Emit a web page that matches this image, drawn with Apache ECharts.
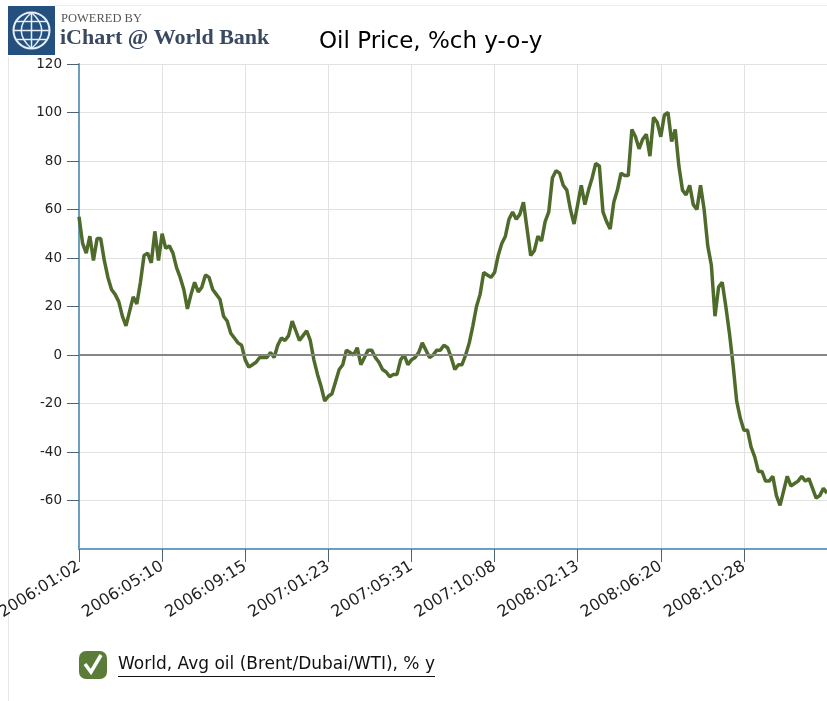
<!DOCTYPE html>
<html>
<head>
<meta charset="utf-8">
<script src="https://cdn.jsdelivr.net/npm/echarts@6/dist/echarts.min.js"></script>
<style>
  html, body { margin: 0; padding: 0; background: #ffffff; }
  #chart { width: 827px; height: 701px; }
</style>
</head>
<body>
<div id="chart"></div>
<script>
// ---- data ----
const chartTitle = 'Oil Price, %ch y-o-y';
const seriesName = 'World, Avg oil (Brent/Dubai/WTI), % y';
const startDate = [2006, 1, 2];      // first observation (Monday)
const stepWeekdays = 4;              // one observation every 4 business days
const labelEvery = 23;               // tick label every 23 observations (92 business days)
const yTicks = [-80, -60, -40, -20, 0, 20, 40, 60, 80, 100, 120];

const oilYoY = [
  57, 46, 42, 49, 39, 48, 48, 39, 32, 27,
  25, 22, 16, 12, 18, 24, 21, 30, 41, 42,
  38, 51, 39, 50, 44, 45, 42, 36, 32, 27,
  19, 25, 30, 26, 28, 33, 32, 27, 25, 23,
  16, 14, 9, 7, 5, 4, -2, -5, -4, -3,
  -1, -1, -1, 1, -1, 4, 7, 6, 8, 14,
  10, 6, 8, 10, 6, -2, -8, -13, -19, -17,
  -16, -11, -6, -4, 2, 1, 0, 3, -4, -1,
  2, 2, -1, -3, -6, -7, -9, -8, -8, -2,
  0, -4, -2, -1, 1, 5, 2, -1, 0, 2,
  2, 4, 3, -1, -6, -4, -4, 0, 5, 12,
  20, 25, 34, 33, 32, 34, 41, 46, 49, 56,
  59, 56, 58, 63, 52, 41, 43, 49, 47, 55,
  59, 73, 76, 75, 70, 68, 60, 54, 62, 70,
  62, 68, 73, 79, 78, 59, 55, 52, 63, 68,
  75, 74, 74, 93, 90, 85, 89, 91, 82, 98,
  96, 90, 99, 100, 88, 93, 78, 68, 66, 70,
  62, 60, 70, 60, 45, 37, 16, 28, 30, 20,
  9, -4, -19, -26, -31, -31, -38, -42, -48, -48,
  -52, -52, -50, -58, -62, -56, -50, -54, -53, -52,
  -50, -52, -51, -55, -59, -58, -55, -57
];

// categories: business-day dates, stepping stepWeekdays business days
function pad(n) { return (n < 10 ? '0' : '') + n; }
const categories = [];
(function () {
  const d = new Date(Date.UTC(startDate[0], startDate[1] - 1, startDate[2]));
  for (let i = 0; i < oilYoY.length; i++) {
    categories.push(d.getUTCFullYear() + ':' + pad(d.getUTCMonth() + 1) + ':' + pad(d.getUTCDate()));
    let k = 0;
    while (k < stepWeekdays) {
      d.setUTCDate(d.getUTCDate() + 1);
      const wd = d.getUTCDay();
      if (wd !== 0 && wd !== 6) k++;
    }
  }
})();
const lastIdx = oilYoY.length - 1;
const showTick = function (idx) { return idx % labelEvery === 0 && idx < lastIdx; };

const FONT = 'DejaVu Sans';
const axisBlue = '#6b9fc2';
const tickColor = '#4b6577';
const lineGreen = '#4f6b2c';
const legendFont = '17px "DejaVu Sans"';

// measure legend text width for the underline
const mctx = document.createElement('canvas').getContext('2d');
mctx.font = legendFont;
const legendTextW = mctx.measureText(seriesName).width;
const legendTextX = 118;

const chart = echarts.init(document.getElementById('chart'), null, { renderer: 'canvas' });
chart.setOption({
  backgroundColor: '#ffffff',
  animation: false,
  title: {
    text: chartTitle,
    left: 319, top: 31, padding: 0,
    textStyle: { fontFamily: FONT, fontSize: 23, fontWeight: 'normal', color: '#000' }
  },
  legend: {
    left: 79, top: 651, padding: 0,
    icon: 'roundRect',
    itemWidth: 28, itemHeight: 28,
    itemStyle: { color: '#5b7b39' },
    textStyle: { fontFamily: FONT, fontSize: 17, color: '#111', padding: [0, 0, 0, 6] },
    data: [seriesName],
    selectedMode: false
  },
  grid: { left: 79, top: 64, right: 0, bottom: 152, containLabel: false, outerBoundsMode: 'none' },
  xAxis: {
    type: 'category',
    data: categories,
    boundaryGap: false,
    axisLine: { onZero: false, lineStyle: { color: axisBlue, width: 2 } },
    axisTick: { interval: showTick, length: 13, lineStyle: { color: tickColor, width: 1 } },
    axisLabel: {
      interval: showTick, rotate: 32, margin: 16,
      fontFamily: FONT, fontSize: 16, color: '#222'
    },
    splitLine: { show: true, interval: showTick, lineStyle: { color: '#e2e2e2', width: 1 } }
  },
  yAxis: {
    type: 'value',
    min: yTicks[0], max: yTicks[yTicks.length - 1], interval: 20,
    axisLine: { show: true, lineStyle: { color: axisBlue, width: 2 } },
    axisTick: { show: true, length: 12, lineStyle: { color: tickColor, width: 1 } },
    axisLabel: { showMinLabel: false, margin: 17, fontFamily: FONT, fontSize: 13.5, color: '#222' },
    splitLine: { show: true, lineStyle: { color: '#e2e2e2', width: 1 } }
  },
  series: [{
    name: seriesName,
    type: 'line',
    data: oilYoY,
    showSymbol: false,
    symbol: 'none',
    lineStyle: { color: lineGreen, width: 3.5 },
    itemStyle: { color: lineGreen },
    markLine: {
      silent: true, symbol: 'none', label: { show: false },
      lineStyle: { color: '#868686', width: 1.8, type: 'solid' },
      data: [{ yAxis: 0 }]
    },
    z: 3
  }],
  graphic: [
    // panel borders
    { type: 'line', shape: { x1: 8.5, y1: 57, x2: 8.5, y2: 701 }, style: { stroke: '#e6e6e6', lineWidth: 1 }, silent: true },
    { type: 'line', shape: { x1: 55, y1: 5.5, x2: 827, y2: 5.5 }, style: { stroke: '#ececec', lineWidth: 1 }, silent: true },
    // logo
    { type: 'rect', shape: { x: 8, y: 6, width: 47, height: 49 }, style: { fill: '#24507f' }, silent: true },
    { type: 'circle', shape: { cx: 31.5, cy: 30.5, r: 18 }, style: { fill: 'none', stroke: '#e8eef5', lineWidth: 2 }, silent: true },
    { type: 'line', shape: { x1: 31.5, y1: 12.5, x2: 31.5, y2: 48.5 }, style: { stroke: '#e8eef5', lineWidth: 1.5 }, silent: true },
    { type: 'line', shape: { x1: 13.5, y1: 30.5, x2: 49.5, y2: 30.5 }, style: { stroke: '#e8eef5', lineWidth: 1.5 }, silent: true },
    { type: 'line', shape: { x1: 16.5, y1: 21.5, x2: 46.5, y2: 21.5 }, style: { stroke: '#e8eef5', lineWidth: 1.5 }, silent: true },
    { type: 'line', shape: { x1: 16.5, y1: 39.5, x2: 46.5, y2: 39.5 }, style: { stroke: '#e8eef5', lineWidth: 1.5 }, silent: true },
    { type: 'bezierCurve', shape: { x1: 31.5, y1: 12.5, x2: 31.5, y2: 48.5, cpx1: 11, cpy1: 30.5 }, style: { fill: 'none', stroke: '#e8eef5', lineWidth: 1.5 }, silent: true },
    { type: 'bezierCurve', shape: { x1: 31.5, y1: 12.5, x2: 31.5, y2: 48.5, cpx1: 52, cpy1: 30.5 }, style: { fill: 'none', stroke: '#e8eef5', lineWidth: 1.5 }, silent: true },
    { type: 'text', left: 61, top: 12, style: { text: 'POWERED BY', font: '12.5px "Liberation Serif"', fill: '#555' }, silent: true },
    { type: 'text', left: 60, top: 27, style: { text: 'iChart @ World Bank', font: 'bold 22px "Liberation Serif"', fill: '#3a4962' }, silent: true },
    // legend checkbox tick and underline
    { type: 'polyline', shape: { points: [[85, 664], [91, 672], [101, 655]] }, style: { stroke: '#ffffff', lineWidth: 3.5, fill: 'none' }, silent: true, z: 100 },
    { type: 'line', shape: { x1: legendTextX, y1: 676.5, x2: legendTextX + legendTextW, y2: 676.5 }, style: { stroke: '#111', lineWidth: 1 }, silent: true }
  ]
});
</script>
</body>
</html>
